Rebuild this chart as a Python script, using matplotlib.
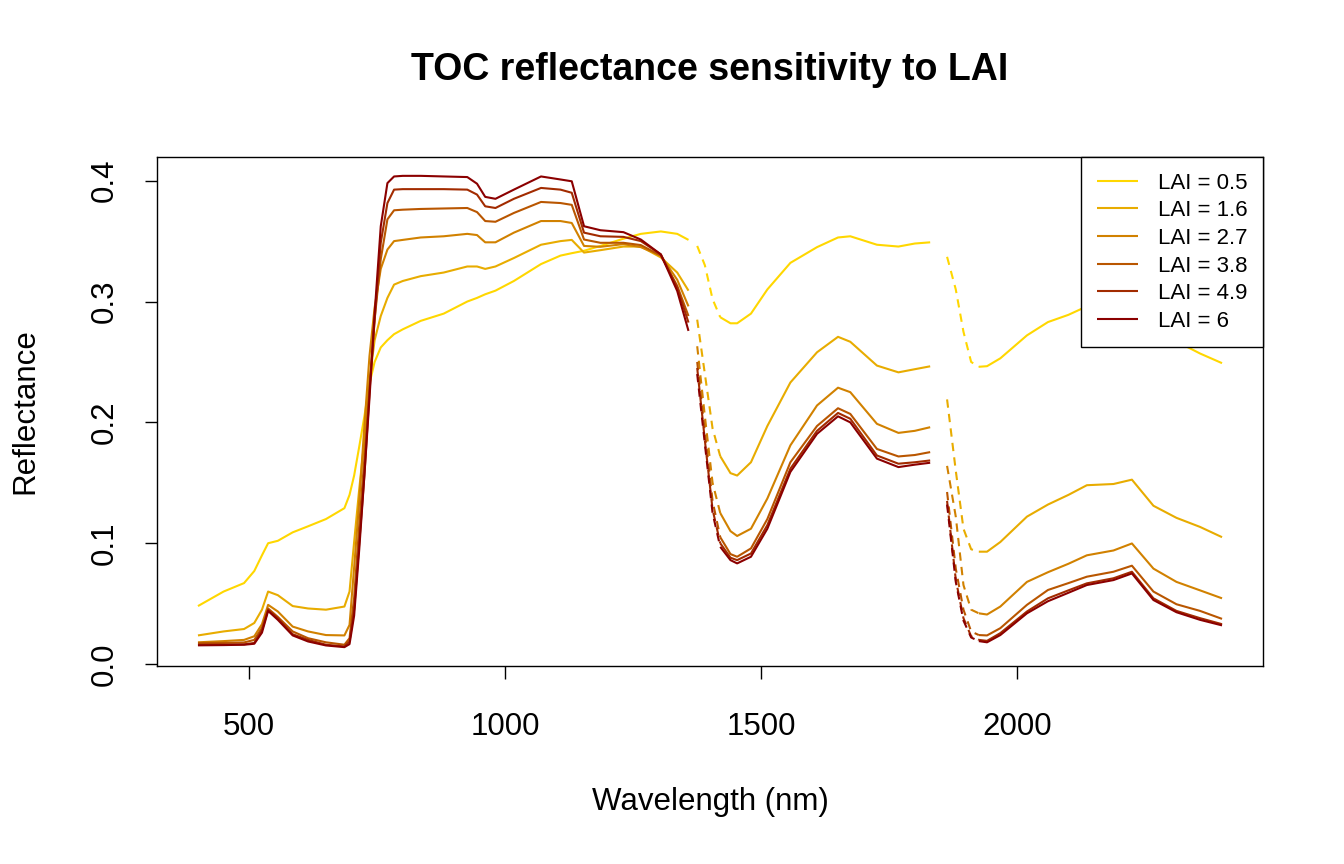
import numpy as np
import matplotlib
matplotlib.use("Agg")
import matplotlib.pyplot as plt

plt.rcParams['font.family'] = ['Liberation Sans', 'DejaVu Sans']

# ---------------- data ----------------
wavelength = [400, 450, 490, 510, 525,
              537, 556, 585, 615, 650,
              686, 696, 705, 715, 725,
              735, 745, 757, 770, 783,
              800, 835, 880, 926, 945,
              961, 981, 1017, 1070, 1108,
              1130, 1154, 1186, 1231, 1265,
              1304, 1336, 1358, 1375, 1390,
              1405, 1420, 1440, 1453, 1480,
              1512, 1557, 1609, 1650, 1674,
              1726, 1768, 1800, 1830, 1863,
              1880, 1895, 1910, 1925, 1941,
              1967, 2019, 2060, 2100, 2136,
              2188, 2224, 2266, 2311, 2357,
              2400]

lai_labels = ["LAI = 0.5", "LAI = 1.6", "LAI = 2.7", "LAI = 3.8", "LAI = 4.9", "LAI = 6"]

refl_lai_0_5 = [0.048, 0.060, 0.067, 0.077, 0.090,
                0.100, 0.102, 0.109, 0.114, 0.120,
                0.129, 0.140, 0.156, 0.180, 0.205,
                0.232, 0.250, 0.262, 0.268, 0.273,
                0.277, 0.284, 0.290, 0.300, 0.303,
                0.306, 0.309, 0.317, 0.331, 0.338,
                0.340, 0.342, 0.346, 0.352, 0.356,
                0.358, 0.356, 0.351, 0.346, 0.330,
                0.302, 0.287, 0.282, 0.282, 0.290,
                0.310, 0.332, 0.345, 0.353, 0.354,
                0.347, 0.3455, 0.348, 0.349, 0.337,
                0.310, 0.275, 0.250, 0.246, 0.2465,
                0.253, 0.272, 0.283, 0.289, 0.296,
                0.283, 0.285, 0.2745, 0.267, 0.257,
                0.249]

refl_lai_1_6 = [0.0237, 0.027, 0.029, 0.034, 0.045,
                0.060, 0.057, 0.048, 0.046, 0.045,
                0.0476, 0.060, 0.101, 0.145, 0.185,
                0.235, 0.268, 0.288, 0.303, 0.314,
                0.317, 0.321, 0.324, 0.329, 0.329,
                0.327, 0.329, 0.336, 0.347, 0.350,
                0.351, 0.3405, 0.3425, 0.3455, 0.3455,
                0.3365, 0.324, 0.309, 0.285, 0.240,
                0.195, 0.172, 0.158, 0.156, 0.167,
                0.197, 0.233, 0.258, 0.2708, 0.2667,
                0.247, 0.2414, 0.244, 0.2464, 0.219,
                0.160, 0.112, 0.095, 0.093, 0.093,
                0.101, 0.122, 0.132, 0.140, 0.148,
                0.149, 0.1526, 0.131, 0.121, 0.1135,
                0.105]

refl_lai_2_7 = [0.018, 0.019, 0.020, 0.023, 0.033,
                0.049, 0.0435, 0.031, 0.027, 0.024,
                0.0237, 0.0324, 0.080, 0.135, 0.197,
                0.255, 0.295, 0.327, 0.343, 0.350,
                0.351, 0.353, 0.354, 0.356, 0.355,
                0.349, 0.349, 0.357, 0.3666, 0.3666,
                0.365, 0.346, 0.3453, 0.3475, 0.345,
                0.338, 0.318, 0.296, 0.263, 0.205,
                0.150, 0.125, 0.110, 0.106, 0.112,
                0.137, 0.181, 0.214, 0.2287, 0.225,
                0.1988, 0.1913, 0.193, 0.196, 0.164,
                0.122, 0.0654, 0.045, 0.042, 0.041,
                0.0476, 0.068, 0.076, 0.083, 0.090,
                0.094, 0.0998, 0.079, 0.068, 0.061,
                0.0544]

refl_lai_3_8 = [0.0173, 0.0175, 0.0179, 0.020, 0.030,
                0.046, 0.039, 0.027, 0.0214, 0.018,
                0.016, 0.0214, 0.055, 0.115, 0.170,
                0.230, 0.285, 0.335, 0.368, 0.3755,
                0.376, 0.3766, 0.377, 0.3774, 0.374,
                0.3666, 0.366, 0.3733, 0.3824, 0.3815,
                0.380, 0.3513, 0.3486, 0.3486, 0.3467,
                0.338, 0.313, 0.288, 0.250, 0.192,
                0.135, 0.105, 0.091, 0.0888, 0.0957,
                0.120, 0.167, 0.197, 0.2117, 0.207,
                0.178, 0.1718, 0.173, 0.1754, 0.1424,
                0.079, 0.045, 0.027, 0.024, 0.0237,
                0.0297, 0.049, 0.0613, 0.067, 0.0723,
                0.0764, 0.0814, 0.060, 0.0495, 0.044,
                0.0374]

refl_lai_4_9 = [0.016, 0.0162, 0.0163, 0.0175, 0.028,
                0.0448, 0.038, 0.0247, 0.020, 0.016,
                0.0146, 0.0187, 0.045, 0.100, 0.156,
                0.225, 0.285, 0.3486, 0.3815, 0.3926,
                0.393, 0.393, 0.393, 0.3926, 0.3885,
                0.3788, 0.3774, 0.385, 0.394, 0.3926,
                0.390, 0.357, 0.354, 0.3535, 0.350,
                0.339, 0.3115, 0.2826, 0.245, 0.185,
                0.128, 0.100, 0.088, 0.086, 0.0915,
                0.115, 0.1617, 0.193, 0.2078, 0.203,
                0.1726, 0.1658, 0.167, 0.1685, 0.135,
                0.070, 0.038, 0.023, 0.020, 0.0192,
                0.0256, 0.0435, 0.0544, 0.061, 0.0668,
                0.071, 0.0764, 0.0544, 0.044, 0.038,
                0.033]

refl_lai_6 = [0.0155, 0.0157, 0.016, 0.0168, 0.026,
              0.044, 0.0366, 0.0237, 0.0187, 0.0154,
              0.014, 0.0165, 0.040, 0.095, 0.156,
              0.220, 0.290, 0.3623, 0.398, 0.4035,
              0.404, 0.404, 0.4035, 0.403, 0.3975,
              0.3866, 0.385, 0.3926, 0.4035, 0.401,
              0.3995, 0.3623, 0.359, 0.3574, 0.3513,
              0.339, 0.3087, 0.2757, 0.240, 0.182,
              0.125, 0.097, 0.086, 0.0833, 0.0888,
              0.112, 0.159, 0.1905, 0.205, 0.200,
              0.170, 0.163, 0.165, 0.1666, 0.132,
              0.068, 0.036, 0.022, 0.019, 0.018,
              0.024, 0.042, 0.052, 0.059, 0.0654,
              0.0695, 0.075, 0.053, 0.0429, 0.0366,
              0.032]

series = [refl_lai_0_5, refl_lai_1_6, refl_lai_2_7, refl_lai_3_8, refl_lai_4_9, refl_lai_6]

# ---------------- styles ----------------
colors = ["#FFD700", "#E8AC00", "#D18100", "#B95600", "#A22B00", "#8B0000"]
solid_ranges = [(400, 1358), (1420, 1830), (1925, 2400)]
dashed_ranges = [(1375, 1420), (1863, 1925)]
LW = 1.5
FS = 22.5

w = np.array(wavelength, dtype=float)

fig = plt.figure(figsize=(13.44, 8.64), dpi=100)
ax = fig.add_axes([157 / 1344, 1 - 666 / 864, (1263 - 157) / 1344, (666 - 157) / 864])

for vals, col, lab in zip(series, colors, lai_labels):
    v = np.array(vals, dtype=float)
    first = True
    for lo, hi in solid_ranges:
        m = (w >= lo) & (w <= hi)
        ax.plot(w[m], v[m], color=col, lw=LW, solid_capstyle='butt',
                label=lab if first else None)
        first = False
    for lo, hi in dashed_ranges:
        m = (w >= lo) & (w <= hi)
        ax.plot(w[m], v[m], color=col, lw=LW, linestyle=(0, (4, 3)))

# R-style axis ranges (4% expansion)
allv = np.concatenate([np.array(s, dtype=float) for s in series])
xr = w.max() - w.min()
yr = allv.max() - allv.min()
ax.set_xlim(w.min() - 0.04 * xr, w.max() + 0.04 * xr)
ax.set_ylim(allv.min() - 0.04 * yr, allv.max() + 0.04 * yr)

ax.set_xticks([500, 1000, 1500, 2000])
ax.set_xticklabels(["500", "1000", "1500", "2000"])
ax.set_yticks([0.0, 0.1, 0.2, 0.3, 0.4])
ax.set_yticklabels(["0.0", "0.1", "0.2", "0.3", "0.4"], rotation=90, va='center')

ax.tick_params(axis='both', direction='out', length=9, width=1.0, labelsize=FS)
ax.tick_params(axis='x', pad=24)
ax.tick_params(axis='y', pad=18)
for sp in ax.spines.values():
    sp.set_linewidth(1.0)
    sp.set_color('black')

ax.set_xlabel("Wavelength (nm)", fontsize=FS)
ax.xaxis.set_label_coords(0.5, -(802 - 666) / 509)
ax.xaxis.label.set_va('center')
ax.set_ylabel("Reflectance", fontsize=FS)
ax.yaxis.set_label_coords(-(157 - 25) / 1106, 0.5)
ax.yaxis.label.set_va('center')

ax.set_title("TOC reflectance sensitivity to LAI", fontsize=27, fontweight='bold',
             y=(666 - 78) / 509, va='center')

leg = ax.legend(loc='upper right', bbox_to_anchor=(1.0, 1.0), borderaxespad=0,
                frameon=True, fancybox=False, edgecolor='black', framealpha=1,
                fontsize=16, handlelength=1.85, handletextpad=0.9,
                labelspacing=0.3, borderpad=0.7)
leg.get_frame().set_linewidth(1.0)

fig.savefig("out.png", dpi=100, facecolor='white')
